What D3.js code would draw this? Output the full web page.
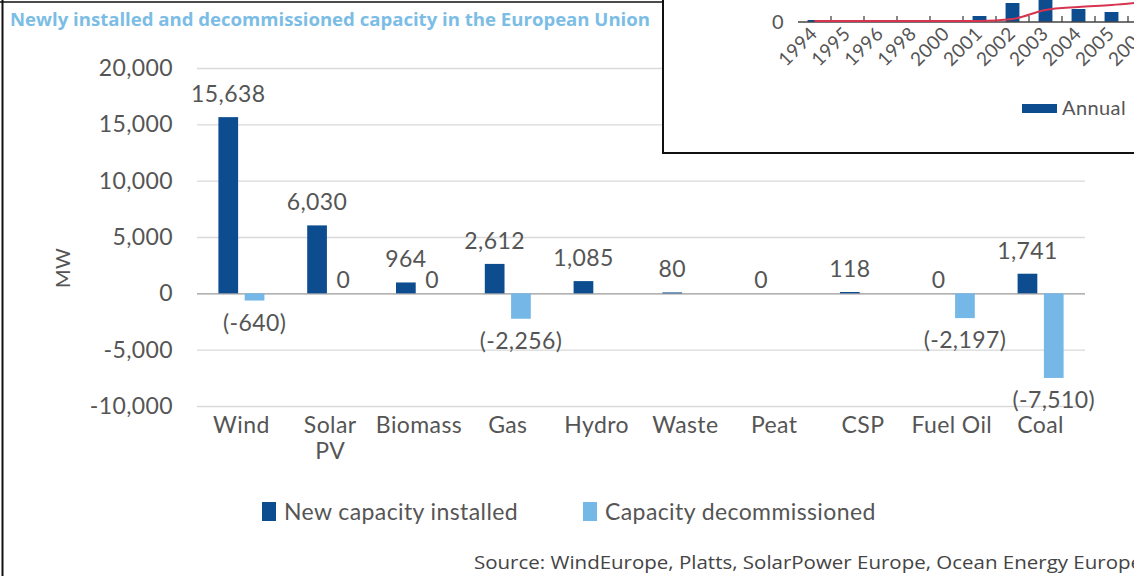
<!DOCTYPE html>
<html>
<head>
<meta charset="utf-8">
<script src="https://cdn.jsdelivr.net/npm/d3@7"></script>
<style>
  body { margin: 0; background: #fff; }
  svg { display: block; }
  .geo { font-family: Lato, sans-serif; letter-spacing: 0.4px; }
</style>
</head>
<body>
<svg id="chart" width="1134" height="576"></svg>
<script>
// main chart data
var categories = ["Wind", "Solar PV", "Biomass", "Gas", "Hydro", "Waste", "Peat", "CSP", "Fuel Oil", "Coal"];
var seriesNames = ["New capacity installed", "Capacity decommissioned"];
var installed = [15638, 6030, 964, 2612, 1085, 80, 0, 118, 0, 1741];
var decommissioned = [-640, 0, 0, -2256, null, null, null, null, -2197, -7510];
var yTicks = [-10000, -5000, 0, 5000, 10000, 15000, 20000];

var insetYears = ["1994", "1995", "1996", "1998", "2000", "2001", "2002", "2003", "2004", "2005", "2006"];
var insetAnnual = [2, 0, 0, 0, 0, 6, 19, 30, 13, 10, 8];
var insetCumulative = [1, 1, 1, 1, 1, 1, 3, 12, 15, 17, 20];

var dark = "#0c4c8f", light = "#75b8e7", textCol = "#555";
var fmt = v => d3.format(",")(v).replace("\u2212", "-");
var svg = d3.select("#chart");

// frame lines of the screenshot
svg.append("line").attr("x1", 2.5).attr("x2", 2.5).attr("y1", 0).attr("y2", 576)
    .attr("stroke", "#111").attr("stroke-width", 2);
svg.append("line").attr("x1", 0).attr("x2", 663).attr("y1", 2).attr("y2", 2)
    .attr("stroke", "#111").attr("stroke-width", 1.5);

svg.append("text")
    .attr("x", 10).attr("y", 26)
    .attr("textLength", 640).attr("lengthAdjust", "spacingAndGlyphs")
    .style("font-family", "'Open Sans', sans-serif").style("font-weight", "bold")
    .style("font-size", "18px").style("fill", "#7cbde6")
    .text("Newly installed and decommissioned capacity in the European Union");

var x0 = d3.scaleBand().domain(categories).range([197, 1085]).padding(0);
var x1 = d3.scaleBand().domain(seriesNames).range([-23, 23]).paddingInner(0.25);
var y = d3.scaleLinear().domain([-10000, 20000]).range([406, 68]);

// y axis with gridlines
var yAxis = svg.append("g")
    .attr("transform", "translate(197,0)")
    .call(d3.axisLeft(y).tickValues(yTicks).tickFormat(fmt)
        .tickSize(-(1085 - 197)).tickPadding(24));
yAxis.select(".domain").remove();
yAxis.selectAll(".tick line").attr("stroke", d => d === 0 ? "#999" : "#d9d9d9").attr("stroke-width", 1.3);
yAxis.selectAll(".tick text").attr("class", "geo")
    .style("font-size", "23px").style("fill", textCol);

svg.append("text")
    .attr("class", "geo")
    .attr("transform", "translate(70,268) rotate(-90)")
    .attr("text-anchor", "middle")
    .style("font-size", "20px").style("fill", textCol)
    .text("MW");

// bars
var rows = categories.map((c, i) => ({cat: c, values: [
    {s: seriesNames[0], v: installed[i]},
    {s: seriesNames[1], v: decommissioned[i]}
]}));

var groups = svg.append("g").selectAll("g")
    .data(rows).enter().append("g")
    .attr("transform", d => "translate(" + (x0(d.cat) + x0.bandwidth() / 2) + ",0)");

groups.selectAll("rect")
    .data(d => d.values.filter(p => p.v !== null))
    .enter().append("rect")
    .attr("x", d => x1(d.s))
    .attr("width", x1.bandwidth())
    .attr("y", d => y(Math.max(0, d.v)))
    .attr("height", d => Math.abs(y(d.v) - y(0)))
    .attr("fill", d => d.s === seriesNames[0] ? dark : light);

groups.selectAll("text.lbl")
    .data(d => d.values.filter(p => p.v !== null))
    .enter().append("text")
    .attr("class", "lbl geo")
    .attr("x", d => x1(d.s) + x1.bandwidth() / 2)
    .attr("y", d => d.v > 0 ? y(d.v) - 15 : d.v === 0 ? y(0) - 5 : y(d.v) + 30)
    .attr("text-anchor", "middle")
    .style("font-size", "23px").style("fill", textCol)
    .text(d => d.v < 0 ? "(" + fmt(d.v) + ")" : fmt(d.v));

// category labels (wrap two-word "Solar PV")
var catLabels = svg.append("g").selectAll("text")
    .data(categories).enter().append("text")
    .attr("class", "geo")
    .attr("x", d => x0(d) + x0.bandwidth() / 2)
    .attr("y", 433)
    .attr("text-anchor", "middle")
    .style("font-size", "23px").style("fill", textCol);
catLabels.each(function(d) {
    var parts = d === "Solar PV" ? ["Solar", "PV"] : [d];
    var t = d3.select(this);
    parts.forEach((p, i) => {
        t.append("tspan").attr("x", t.attr("x")).attr("dy", i === 0 ? 0 : 26).text(p);
    });
});

// legend
var legendX = [262, 583];
var legend = svg.append("g").selectAll("g")
    .data(seriesNames).enter().append("g")
    .attr("transform", (d, i) => "translate(" + legendX[i] + ",502)");
legend.append("rect").attr("width", 14).attr("height", 19)
    .attr("fill", (d, i) => i === 0 ? dark : light);
legend.append("text").attr("class", "geo").attr("x", 22).attr("y", 18)
    .style("font-size", "23px").style("fill", textCol)
    .text(d => d);

svg.append("text")
    .attr("x", 474).attr("y", 569)
    .attr("textLength", 668).attr("lengthAdjust", "spacingAndGlyphs")
    .style("font-family", "'Open Sans', sans-serif").style("font-size", "18px").style("fill", "#444")
    .text("Source: WindEurope, Platts, SolarPower Europe, Ocean Energy Europe");

// inset chart covering the top right
var inset = svg.append("g");
inset.append("rect").attr("x", 663).attr("y", 0).attr("width", 480).attr("height", 153).attr("fill", "#fff");
inset.append("line").attr("x1", 663).attr("x2", 663).attr("y1", 0).attr("y2", 153)
    .attr("stroke", "#111").attr("stroke-width", 2);
inset.append("line").attr("x1", 662).attr("x2", 1134).attr("y1", 153).attr("y2", 153)
    .attr("stroke", "#111").attr("stroke-width", 2);

var ix = d3.scaleBand().domain(insetYears).range([798, 798 + 33 * insetYears.length]).paddingInner(0.58).paddingOuter(0.29);
var ixStep = d3.scaleBand().domain(insetYears).range([798, 798 + 33 * insetYears.length]);
var iy = d3.scaleLinear().domain([0, 22]).range([22, 0]);

inset.selectAll("rect.ibar")
    .data(insetAnnual).enter().append("rect")
    .attr("class", "ibar")
    .attr("x", (d, i) => ix(insetYears[i]))
    .attr("width", ix.bandwidth())
    .attr("y", d => iy(d))
    .attr("height", d => iy(0) - iy(d))
    .attr("fill", dark);

inset.append("line").attr("x1", 798).attr("x2", 1134).attr("y1", iy(0)).attr("y2", iy(0))
    .attr("stroke", "#444").attr("stroke-width", 1.5);
inset.selectAll("line.itick")
    .data(insetYears.slice(1)).enter().append("line")
    .attr("class", "itick")
    .attr("x1", d => ixStep(d)).attr("x2", d => ixStep(d))
    .attr("y1", iy(0)).attr("y2", iy(0) - 6)
    .attr("stroke", "#444").attr("stroke-width", 1.3);

inset.append("path")
    .datum(insetCumulative)
    .attr("fill", "none").attr("stroke", "#d8334f").attr("stroke-width", 2)
    .attr("d", d3.line()
        .x((d, i) => ixStep(insetYears[i]) + ixStep.bandwidth() / 2)
        .y(d => iy(d))
        .curve(d3.curveMonotoneX));

inset.append("text").attr("class", "geo").attr("x", 784).attr("y", 29).attr("text-anchor", "end")
    .style("font-size", "20px").style("fill", textCol)
    .text("0");

inset.selectAll("text.iyear")
    .data(insetYears).enter().append("text")
    .attr("class", "iyear")
    .attr("text-anchor", "end")
    .attr("transform", d => "translate(" + (ixStep(d) + ixStep.bandwidth() / 2 + 4) + ",35) rotate(-45)")
    .style("font-family", "Lato, sans-serif").style("letter-spacing", "0.4px")
    .style("font-size", "19px").style("fill", textCol)
    .text(d => d);

inset.append("rect").attr("x", 1022).attr("y", 104).attr("width", 35).attr("height", 9).attr("fill", dark);
inset.append("text").attr("class", "geo").attr("x", 1062).attr("y", 115)
    .style("font-size", "20px").style("fill", textCol)
    .text("Annual");
</script>
</body>
</html>
